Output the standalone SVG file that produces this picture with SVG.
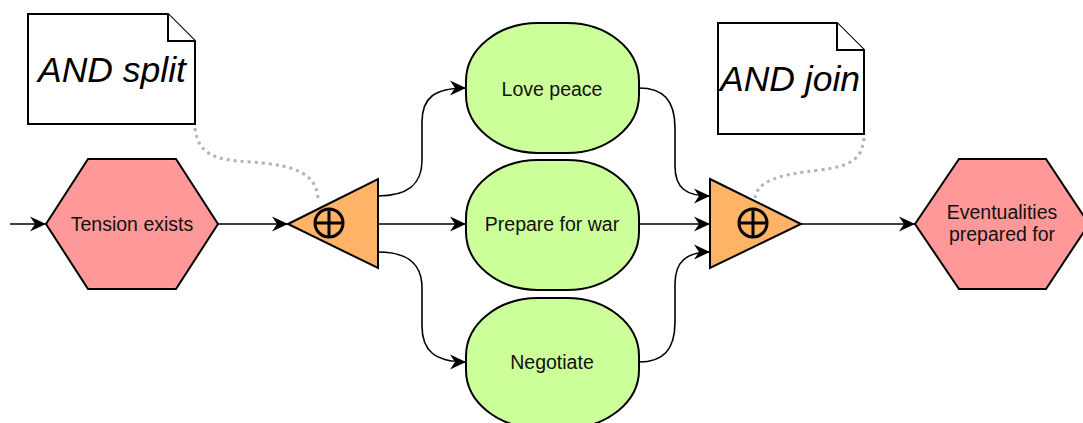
<svg xmlns="http://www.w3.org/2000/svg" width="1083" height="423" viewBox="0 0 1083 423">
  <style>
    .event { fill: #FF9999; stroke: #000; stroke-width: 2; }
    .func { fill: #CCFF99; stroke: #000; stroke-width: 2; }
    .gate { fill: #FFB366; stroke: #000; stroke-width: 2; stroke-linejoin: miter; }
    .sym { fill: none; stroke: #000; stroke-width: 3; }
    .note { fill: #fff; stroke: #000; stroke-width: 2; }
    .lbl { font-family: "Liberation Sans", Arial, sans-serif; font-size: 19.5px; fill: #111; text-anchor: middle; }
    .notelbl { font-family: "Liberation Sans", Arial, sans-serif; font-size: 35.5px; font-style: italic; fill: #000; text-anchor: middle; }
    .flow { fill: none; stroke: #000; stroke-width: 1.6; marker-end: url(#arrow); }
    .assoc { fill: none; stroke: #B3B3B3; stroke-width: 3; stroke-dasharray: 3 4; }
  </style>
  <defs>
    <marker id="arrow" markerUnits="userSpaceOnUse" markerWidth="17" markerHeight="17" viewBox="-16 -8 17 16" refX="0" refY="0" orient="auto">
      <path d="M0,0 L-16,-7.5 L-11,0 L-16,7.5 Z" fill="#000"/>
    </marker>
  </defs>

  <!-- connectors -->
  <g id="connectors">
    <path class="flow" d="M10,224 L46,224"/>
    <path class="flow" d="M218,224 L288,224"/>
    <path class="flow" d="M378,196 C406,196 422,186 422,160 L422,122 C422,98 434,88 466,88"/>
    <path class="flow" d="M378,224 L466,224"/>
    <path class="flow" d="M378,252 C406,252 422,262 422,288 L422,326 C422,350 434,362 466,362"/>
    <path class="flow" d="M639,88 C663,88 675,100 675,128 L675,166 C675,188 686,196 710,196"/>
    <path class="flow" d="M639,224 L710,224"/>
    <path class="flow" d="M639,362 C663,362 675,350 675,322 L675,284 C675,262 686,252 710,252"/>
    <path class="flow" d="M801,224 L915,224"/>
    <path class="assoc" d="M195,128 C198,154 214,160 250,162 C300,165 316,176 318,198"/>
    <path class="assoc" d="M864,138 C862,160 850,166 820,170 C776,175 758,181 755,198"/>
  </g>

  <!-- annotations -->
  <g id="note-split">
    <path class="note" d="M28,14 L168,14 L195,41 L195,124 L28,124 Z"/>
    <path class="note" d="M168,14 L168,41 L195,41"/>
    <text class="notelbl" x="112" y="82">AND split</text>
  </g>
  <g id="note-join">
    <path class="note" d="M718,23 L837,23 L864,50 L864,134 L718,134 Z"/>
    <path class="note" d="M837,23 L837,50 L864,50"/>
    <text class="notelbl" x="790" y="91">AND join</text>
  </g>

  <!-- events -->
  <g id="tension-exists">
    <polygon class="event" points="46,224 88,159 176,159 218,224 176,289 88,289"/>
    <text class="lbl" x="132" y="231">Tension exists</text>
  </g>
  <g id="eventualities">
    <polygon class="event" points="915,224 959,159 1046,159 1089,224 1046,289 959,289"/>
    <text class="lbl" x="1002" y="219">Eventualities</text>
    <text class="lbl" x="1002" y="241">prepared for</text>
  </g>

  <!-- AND split / AND join -->
  <g id="and-split">
    <polygon class="gate" points="288,224 378,179 378,268"/>
    <circle class="sym" cx="329" cy="223" r="14"/>
    <path class="sym" d="M315,223 L343,223 M329,209 L329,237"/>
  </g>
  <g id="and-join">
    <polygon class="gate" points="710,179 801,224 710,268"/>
    <circle class="sym" cx="753" cy="223" r="14"/>
    <path class="sym" d="M739,223 L767,223 M753,209 L753,237"/>
  </g>

  <!-- functions -->
  <g id="love-peace">
    <rect class="func" x="466" y="23" width="173" height="130" rx="72" ry="58"/>
    <text class="lbl" x="552" y="96">Love peace</text>
  </g>
  <g id="prepare-for-war">
    <rect class="func" x="466" y="160" width="173" height="130" rx="72" ry="58"/>
    <text class="lbl" x="552" y="231">Prepare for war</text>
  </g>
  <g id="negotiate">
    <rect class="func" x="466" y="298" width="173" height="130" rx="72" ry="58"/>
    <text class="lbl" x="552" y="369">Negotiate</text>
  </g>
</svg>
